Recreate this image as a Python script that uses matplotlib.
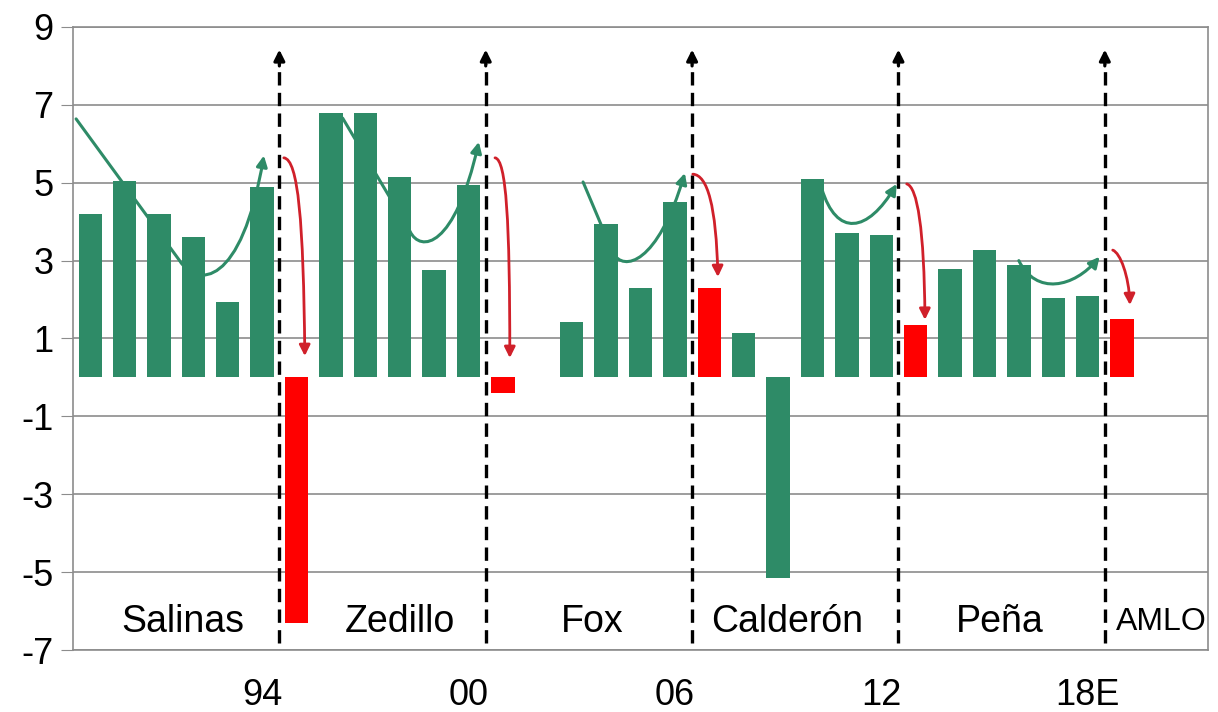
import numpy as np
import matplotlib
matplotlib.use("Agg")
import matplotlib.pyplot as plt
from matplotlib.path import Path
from matplotlib.patches import FancyArrowPatch

plt.rcParams['font.family'] = ['Liberation Sans', 'DejaVu Sans']
plt.rcParams['axes.unicode_minus'] = False

# --- data: annual growth, 1989-2019 (two empty slots at the end) ---
years = list(range(1989, 2022))
growth = [4.2, 5.05, 4.2, 3.6, 1.95, 4.9,
          -6.3, 6.8, 6.8, 5.15, 2.75, 4.95,
          -0.4, 0.0, 1.42, 3.95, 2.3, 4.5,
          2.3, 1.13, -5.15, 5.1, 3.7, 3.65,
          1.35, 2.78, 3.27, 2.88, 2.04, 2.1,
          1.5, np.nan, np.nan]
first_year = [1995, 2001, 2007, 2013, 2019]   # first year of each term (red)
tick_years = [1994, 2000, 2006, 2012, 2018]
tick_labels = ['94', '00', '06', '12', '18E']
presidents = ['Salinas', 'Zedillo', 'Fox', 'Calderón', 'Peña', 'AMLO']
name_pos = [2.7, 9.0, 14.6, 20.25, 26.45, 31.15]

GREEN = '#2e8b67'
RED = '#ff0000'
DRED = '#d0202a'

# arrow paths (annotation guides, in data coords)
green_paths = [
    [(-0.41, 6.64), (2.6, 3.0), (3.1, 2.3), (4.4, 2.3), (5.05, 5.7)],
    [(7.34, 6.66), (9.3, 3.75), (9.6, 3.2), (10.6, 3.3), (11.3, 6.05)],
    [(14.33, 5.02), (15.2, 3.2), (15.5, 2.7), (16.5, 2.9), (17.29, 5.25)],
]
green_curves = [
    [(21.27, 4.85), (21.7, 3.6), (22.6, 3.7), (23.45, 4.97)],
    [(27.0, 3.0), (27.5, 2.1), (28.6, 2.3), (29.35, 3.1)],
]
red_curves = [
    [(5.63, 5.64), (6.05, 5.6), (6.2, 4.0), (6.24, 0.55)],
    [(11.77, 5.64), (12.1, 5.6), (12.2, 4.0), (12.2, 0.5)],
    [(17.52, 5.22), (17.95, 5.2), (18.2, 4.4), (18.25, 2.58)],
    [(23.74, 4.97), (24.05, 4.9), (24.25, 3.8), (24.27, 1.48)],
    [(29.73, 3.27), (29.95, 3.2), (30.2, 2.6), (30.23, 1.86)],
]

fig = plt.figure(figsize=(12.18, 7.12), dpi=100)
ax = fig.add_axes([73/1218, 1-650/712, 1135/1218, 623/712])

x = np.arange(len(years))
colors = [RED if y in first_year else GREEN for y in years]
ax.bar(x, growth, width=0.68, color=colors, zorder=3)

ax.set_xlim(-0.5, len(years) - 0.5)
ax.set_ylim(-7, 9)
ax.set_yticks(np.arange(-7, 10, 2))
ax.yaxis.grid(True, color='#8c8c8c', lw=1.2, zorder=0)
ax.set_axisbelow(True)
for s in ax.spines.values():
    s.set_color('#8c8c8c')
    s.set_linewidth(1.2)
ax.tick_params(axis='y', length=9, color='#8c8c8c', labelsize=26, pad=5)
ax.set_xticks([years.index(t) for t in tick_years])
ax.set_xticklabels(tick_labels, fontsize=26)
ax.tick_params(axis='x', length=0, pad=20)

# term boundaries: dashed lines with arrow tops
for t in tick_years:
    xb = years.index(t) + 0.5
    ax.plot([xb, xb], [-6.81, 8.05], ls=(0, (4, 2.2)), color='black', lw=2.4, zorder=4)
    ax.annotate('', xy=(xb, 8.42), xytext=(xb, 8.0),
                arrowprops=dict(arrowstyle='-|>', color='black', lw=2.3,
                                mutation_scale=16, shrinkA=0, shrinkB=0), zorder=5)

for nm, px in zip(presidents, name_pos):
    ax.text(px, -6.27, nm, ha='center', va='center', fontsize=27 if nm != 'AMLO' else 23,
            zorder=6)

def add_arrow(verts, codes, color, lw):
    p = FancyArrowPatch(path=Path(verts, codes), arrowstyle='-|>', color=color,
                        lw=lw, mutation_scale=16, transform=ax.transData, zorder=5)
    ax.add_patch(p)

for v in green_paths:
    add_arrow(v, [Path.MOVETO, Path.LINETO, Path.CURVE4, Path.CURVE4, Path.CURVE4],
              GREEN, 2.2)
for v in green_curves:
    add_arrow(v, [Path.MOVETO, Path.CURVE4, Path.CURVE4, Path.CURVE4], GREEN, 2.2)
for v in red_curves:
    add_arrow(v, [Path.MOVETO, Path.CURVE4, Path.CURVE4, Path.CURVE4], DRED, 2.0)

fig.savefig('out.png', dpi=100)
